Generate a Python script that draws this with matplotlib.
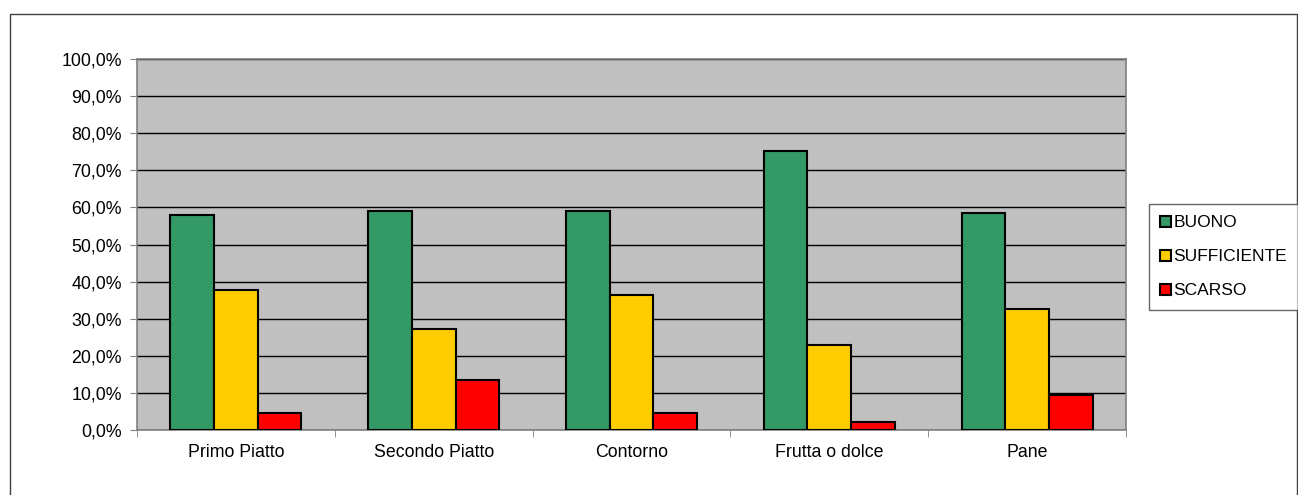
"""
Giudizio sul pasto: BUONO / SUFFICIENTE / SCARSO per portata
"""

import matplotlib.pyplot as plt
import numpy as np
from matplotlib.patches import Rectangle
from matplotlib.ticker import FuncFormatter, MultipleLocator

plt.rcParams['font.family'] = ['Liberation Sans', 'DejaVu Sans']

# data (percent)
categories = ["Primo Piatto", "Secondo Piatto", "Contorno", "Frutta o dolce", "Pane"]
buono = [57.9, 59.0, 59.1, 75.1, 58.4]
sufficiente = [37.7, 27.2, 36.3, 22.8, 32.5]
scarso = [4.6, 13.5, 4.5, 2.2, 9.3]
series_names = ["BUONO", "SUFFICIENTE", "SCARSO"]
colours = ["#339966", "#FFCC00", "#FF0000"]

fig = plt.figure(figsize=(12.98, 4.95), dpi=100)
# outer chart border
fig.patches.append(Rectangle((10 / 1298, -0.05), 1287 / 1298, 1.05 - 14 / 495,
                             transform=fig.transFigure, fill=False,
                             edgecolor="#404040", linewidth=1))

ax = fig.add_axes([137 / 1298, 1 - 430 / 495, 989 / 1298, 371 / 495])
ax.set_facecolor("#C0C0C0")

x = np.arange(len(categories))
width = 0.221
for i, (vals, name, col) in enumerate(zip([buono, sufficiente, scarso], series_names, colours)):
    ax.bar(x + (i - 1) * width, vals, width, color=col, edgecolor="black",
           linewidth=1.5, label=name, zorder=3)

ax.set_xlim(-0.5, len(categories) - 0.5)
ax.set_ylim(0, 100)
ax.yaxis.set_major_locator(MultipleLocator(10))
ax.yaxis.set_major_formatter(FuncFormatter(lambda v, p: f"{v:.1f}%".replace(".", ",")))
ax.grid(axis="y", color="black", linewidth=1, zorder=1)
ax.set_axisbelow(True)

ax.set_xticks(x)
ax.set_xticklabels(categories)
ax.set_xticks(np.arange(-0.5, len(categories)), minor=True)
ax.tick_params(axis="x", which="major", length=0, pad=10, labelsize=12.8)
ax.tick_params(axis="x", which="minor", length=5, color="#808080")
ax.tick_params(axis="y", length=5, color="#808080", labelsize=12.8, pad=6)

for side in ax.spines.values():
    side.set_color("#808080")
    side.set_linewidth(1.2)

leg = fig.legend(loc="upper left", bbox_to_anchor=(1149 / 1298, 1 - 204 / 495),
                 fontsize=12.5, frameon=True, fancybox=False, handlelength=0.6,
                 handleheight=0.6, handletextpad=0.15, labelspacing=1.1,
                 borderpad=0.65, borderaxespad=0)
leg.get_frame().set_edgecolor("#404040")
leg.get_frame().set_linewidth(1)

plt.savefig("out.png", dpi=100)
